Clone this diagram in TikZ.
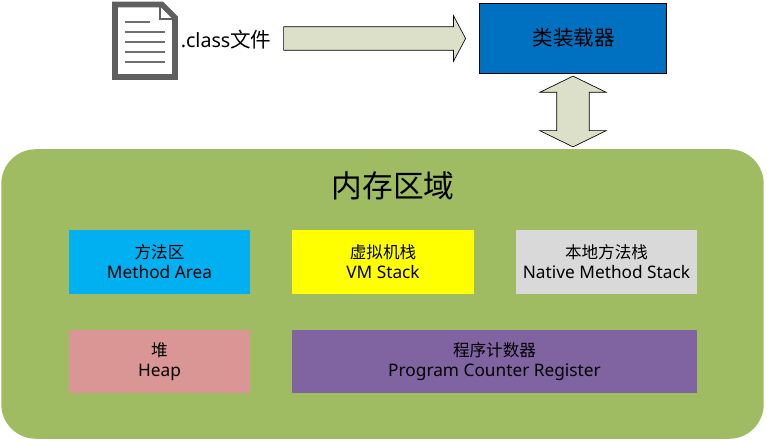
\documentclass[tikz,border=0pt]{standalone}
\usepackage{fontspec}
\setmainfont{Noto Sans}
\newfontfamily\cjk[Scale=0.96]{Noto Sans CJK SC}
\usetikzlibrary{shapes}
\definecolor{arrowfill}{HTML}{DDE0C8}
\definecolor{memgreen}{HTML}{9FBC62}
\definecolor{iconlines}{HTML}{6F6F6F}
\definecolor{icongray}{HTML}{5F5F5F}
\definecolor{methodblue}{HTML}{00B0F0}
\definecolor{vmyellow}{HTML}{FFFF00}
\definecolor{nativegray}{HTML}{D9D9D9}
\definecolor{heappink}{HTML}{D99694}
\definecolor{pcpurple}{HTML}{8064A2}
\definecolor{loaderblue}{HTML}{0070C0}

\begin{document}
\begin{tikzpicture}[scale=0.2646]
        \tikzstyle{every node}+=[inner sep=0pt]
        \tikzstyle{areabox}=[minimum height=48pt,align=center,font=\fontsize{13}{15}\selectfont]
        \tikzstyle{blockarrow}=[draw=black,line width=0.5pt,fill=arrowfill]
        \useasboundingbox (0,0) rectangle (76.7,-44.1);
        % memory background
        \node (memory) [fill=memgreen,rounded corners=26pt,minimum width=574pt,minimum height=218pt] at (38.25,-29.4) {};
        \node (memtitle) [font=\fontsize{24.1}{27}\selectfont] at (39.3,-18.6) {\cjk 内存区域};
        % areas
        \node (methodarea) [areabox,fill=methodblue,minimum width=136pt] at (15.95,-26.2) {{\cjk 方法区}\\Method Area};
        \node (vmstack) [areabox,fill=vmyellow,minimum width=137pt] at (38.3,-26.2) {{\cjk 虚拟机栈}\\VM Stack};
        \node (nativestack) [areabox,fill=nativegray,minimum width=136pt] at (60.65,-26.2) {{\cjk 本地方法栈}\\Native Method Stack};
        \node (heap) [areabox,fill=heappink,minimum width=136pt] at (15.95,-36.15) {{\cjk 堆}\\Heap};
        \node (pcregister) [areabox,fill=pcpurple,minimum width=304.5pt] at (49.45,-36.15) {{\cjk 程序计数器}\\Program Counter Register};
        % class loader
        \node (loader) [draw=black,line width=0.5pt,fill=loaderblue,minimum width=141pt,minimum height=52.5pt,font=\fontsize{16.1}{18}\selectfont] at (57.3,-3.8) {\hspace{1pt}\cjk 类装载器};
        % file icon
        \draw [icongray,line width=4.2pt,fill=white,miter limit=10] (11.5,-0.45) -- (16.2,-0.45) -- (17.5,-1.75) -- (17.5,-7.7) -- (11.5,-7.7) -- cycle;
        \draw [icongray,line width=1.8pt] (16,-0.6) -- (16,-1.9) -- (17.4,-1.9);
        \draw [iconlines,line width=1.5pt] (12.5,-2.2) -- (15,-2.2);
        \foreach \y in {3.2,4.2,5.2,6.2}
                \draw [iconlines,line width=1.5pt] (12.5,-\y) -- (16.5,-\y);
        \node (classfile) [anchor=west,font=\fontsize{14.8}{18}\selectfont] at (18.05,-4) {.class{\fontsize{16.1}{18}\selectfont\cjk 文件}};
        % block arrows
        \node (filearrow) [blockarrow,shape=single arrow,inner sep=8.6pt,minimum height=137pt,single arrow head extend=8.25pt,single arrow tip angle=124] at (37.15,-3.85) {};
        \node (bytearrow) [blockarrow,shape=double arrow,inner sep=12pt,minimum height=53.25pt,double arrow head extend=12.75pt,double arrow tip angle=128,shape border rotate=90] at (57.3,-11.15) {};
        \end{tikzpicture}
\end{document}
